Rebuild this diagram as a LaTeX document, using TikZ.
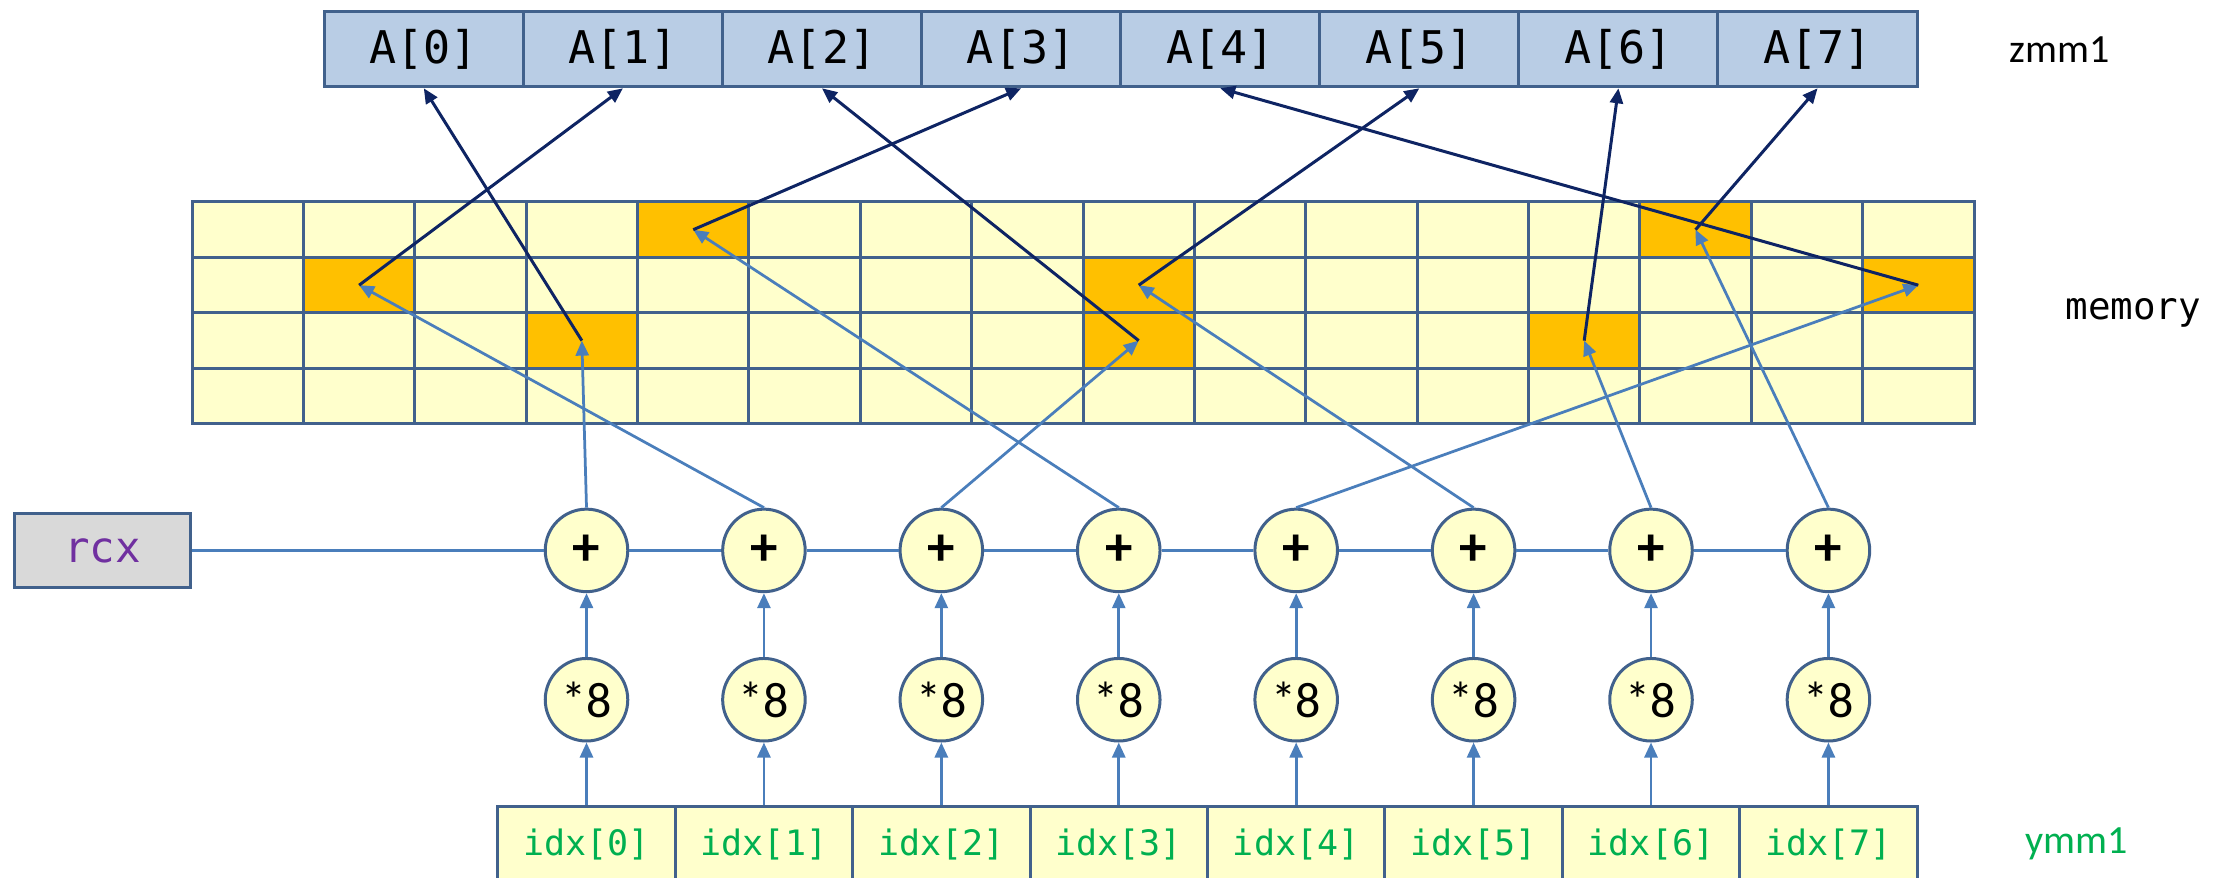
\documentclass[tikz,border=0pt]{standalone}
\usepackage{fontspec}
\setmonofont{DejaVu Sans Mono}
\newfontfamily\labelfont{Carlito}
\usepackage{tikz}
\usetikzlibrary{arrows.meta}
\definecolor{edge}{HTML}{41618C}
\definecolor{regblue}{HTML}{B9CDE5}
\definecolor{cellyellow}{HTML}{FFFFCC}
\definecolor{hotcell}{HTML}{FFC000}
\definecolor{linkblue}{HTML}{4A7EBB}
\definecolor{linknavy}{HTML}{0E2463}
\definecolor{idxgreen}{HTML}{00B050}
\definecolor{rcxpurple}{HTML}{7030A0}

\begin{document}
\begin{tikzpicture}[
        x=0.01cm, y=-0.01cm,
        reg/.style={draw=edge, line width=0.6pt, fill=regblue, minimum width=1.4cm,
            minimum height=0.53cm, inner sep=0pt, font=\ttfamily\fontsize{9}{9}\selectfont},
        cell/.style={draw=edge, line width=0.6pt, fill=cellyellow, minimum width=0.783cm,
            minimum height=0.39cm, inner sep=0pt},
        hot/.style={cell, fill=hotcell},
        op/.style={circle, draw=edge, line width=0.6pt, fill=cellyellow, minimum size=0.58cm,
            inner sep=0pt, font=\labelfont\fontsize{10}{10}\selectfont},
        idx/.style={draw=edge, line width=0.6pt, fill=cellyellow, minimum width=1.2475cm,
            minimum height=0.53cm, inner sep=0pt, text=idxgreen,
            font=\ttfamily\fontsize{7}{7}\selectfont},
        fetch/.style={draw=linkblue, line width=0.55pt, -{Triangle[length=3pt,width=2.6pt]}},
        load/.style={draw=linknavy, line width=0.6pt, -{Triangle[length=3pt,width=2.6pt]}}
    ]
    \useasboundingbox (0,0) rectangle (1568,617);

    \foreach \i in {0,...,7}
        \node[reg] (a\i) at ({298+140*\i},34.5) {A[\i]};
    \node[font=\labelfont\fontsize{8}{8}\selectfont] (zmm) at (1448,35) {zmm1};

    \foreach \r in {0,...,3}
        \foreach \c in {0,...,15}
            \node[cell] (m-\r-\c) at ({174.2+78.31*\c},{161.5+39*\r}) {};
    \foreach \r/\c in {0/4, 0/13, 1/1, 1/8, 1/15, 2/3, 2/8, 2/12}
        \node[hot] (h-\r-\c) at (m-\r-\c) {};
    \node[font=\ttfamily\fontsize{7.5}{7.5}\selectfont] (mem) at (1500,220) {memory};

    \node[draw=edge, line width=0.6pt, fill=black!15, minimum width=1.24cm, minimum height=0.52cm,
        inner sep=0pt, text=rcxpurple, font=\ttfamily\fontsize{8.5}{8.5}\selectfont] (rcx) at (72,387) {rcx};

    \foreach \i in {0,...,7} {
        \node[op] (p\i) at ({412.4+124.75*\i},387) {\fontsize{11}{11}\selectfont\textbf{+}};
        \node[op] (s\i) at ({412.4+124.75*\i},492) {*8};
        \node[idx] (i\i) at ({412.4+124.75*\i},593.5) {idx[\i]};
    }
    \node[text=idxgreen, font=\labelfont\fontsize{8}{8}\selectfont] (ymm) at (1460,593) {ymm1};

    \draw[linkblue, line width=0.55pt] (rcx) -- (p0) -- (p1) -- (p2) -- (p3) -- (p4) -- (p5) -- (p6) -- (p7);

    \foreach \i in {0,...,7} {
        \draw[fetch] (i\i) -- (s\i);
        \draw[fetch] (s\i) -- (p\i);
    }

    \foreach \i/\r/\c in {0/2/3, 1/1/1, 2/2/8, 3/0/4, 4/1/15, 5/1/8, 6/2/12, 7/0/13} {
        \draw[fetch] (p\i.north) -- (m-\r-\c.center);
        \draw[load] (m-\r-\c.center) -- (a\i.south);
    }
\end{tikzpicture}
\end{document}
